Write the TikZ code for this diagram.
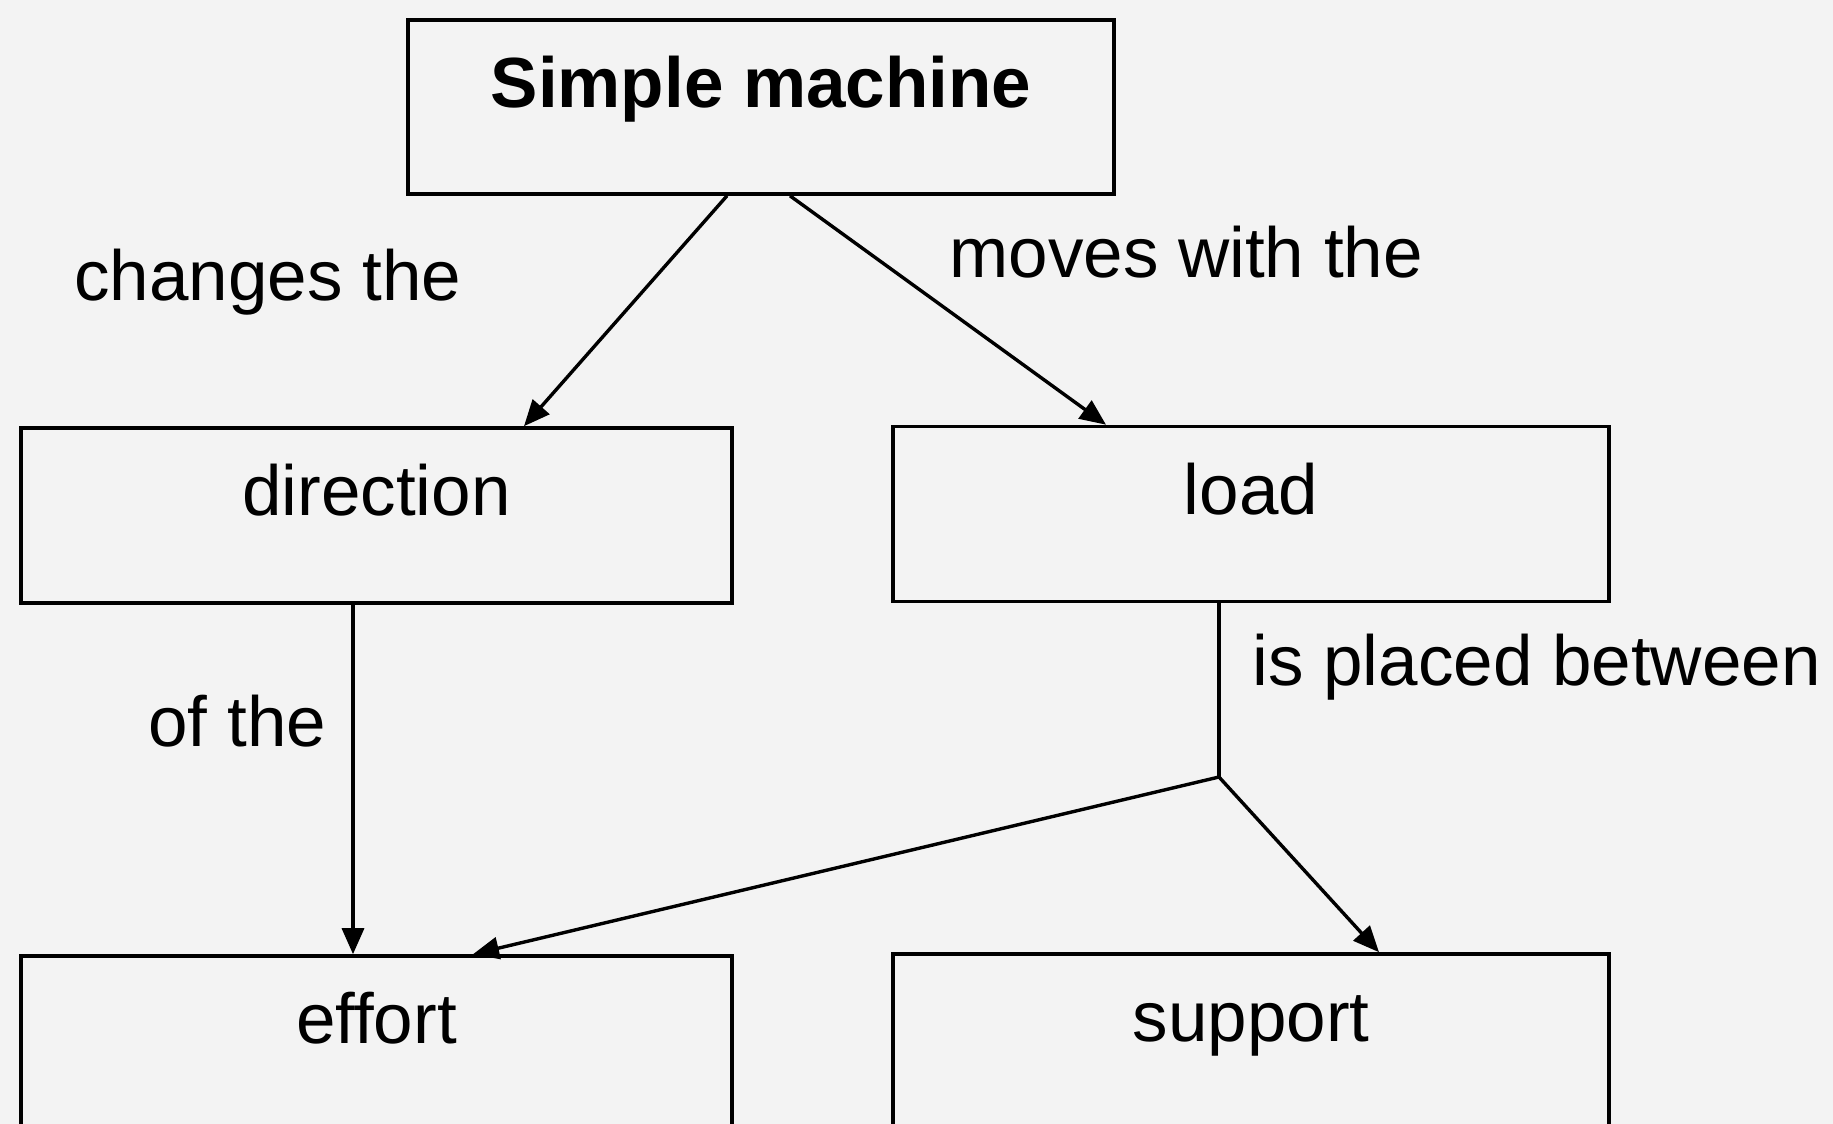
\documentclass[tikz,border=0pt]{standalone}
\usepackage{fontspec}
\setmainfont{Liberation Sans}
\usetikzlibrary{arrows.meta}
\definecolor{paper}{HTML}{F3F3F3}
\begin{document}
\begin{tikzpicture}[x=0.5pt,y=-0.5pt,
  box/.style={draw=black, line width=1.8pt, minimum width=#1, minimum height=87.5pt, inner sep=0pt},
  txt/.style={anchor=base, inner sep=0pt, font=\fontsize{35.5}{42}\selectfont},
  lbl/.style={anchor=base west, inner sep=0pt, font=\fontsize{35.5}{42}\selectfont},
  arr/.style={draw=black, line width=1.7pt, -{Triangle[length=13pt,width=11pt]}},
  ln/.style={draw=black, line width=1.7pt}]
\fill[paper] (0,0) rectangle (1833,1124);
\useasboundingbox (0,0) rectangle (1833,1124);
\begin{scope}
\clip (0,0) rectangle (1833,1124);
\node[box=353pt, minimum height=87pt] (sm) at (761,107) {};
\node[box=355.5pt] (dir) at (376.5,515.5) {};
\node[box=358pt] (load) at (1251,514) {};
\node[box=355.5pt] (eff) at (376.5,1043.5) {};
\node[box=358pt] (sup) at (1251,1041.5) {};
\end{scope}
\node[txt, font=\fontsize{35.5}{42}\selectfont\bfseries] (smt) at (sm.center) {Simple machine};
\node[txt] (dirt) at (dir.center) {direction};
\node[txt] (loadt) at (load.center) {load};
\node[txt] (efft) at (eff.center) {effort};
\node[txt] (supt) at (sup.center) {support};
\coordinate (j) at (1219,777);
\draw[arr] ([xshift=-17pt]sm.south) -- ([xshift=73.75pt]dir.north);
\draw[arr] ([xshift=14.5pt]sm.south) -- ([xshift=-72.5pt]load.north);
\draw[arr] ([xshift=-11.75pt]dir.south) -- ([xshift=-11.75pt]eff.north);
\draw[ln] ([xshift=-16pt]load.south) -- (j);
\draw[arr] (j) -- ([xshift=48.25pt]eff.north);
\draw[arr] (j) -- ([xshift=64pt]sup.north);
\node[lbl] (l1) at (74,300) {changes the};
\node[lbl] (l2) at (949,277) {moves with the};
\node[lbl] (l3) at (148,746) {of the};
\node[lbl] (l4) at (1252,685) {is placed between};
\end{tikzpicture}
\end{document}
